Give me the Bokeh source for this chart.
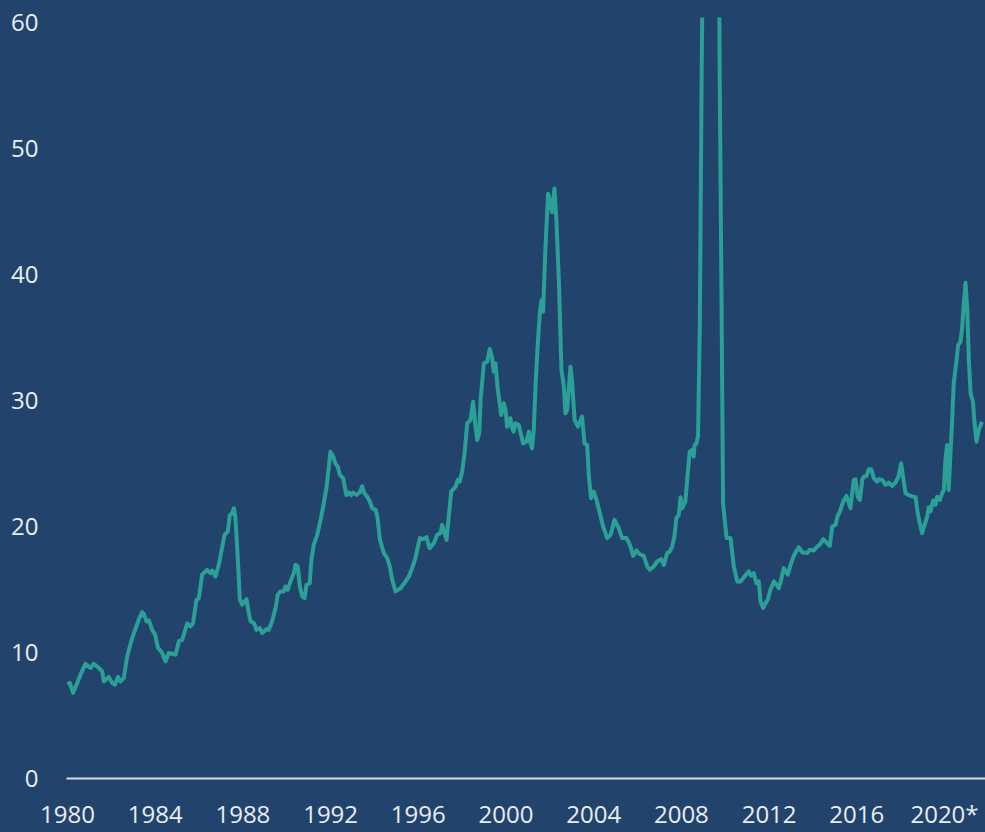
from bokeh.plotting import figure
from bokeh.models import FixedTicker
from bokeh.embed import file_html
from bokeh.resources import INLINE

# decimal year of each observation
year = [
    1980.00, 1980.10, 1980.26, 1980.41, 1980.59, 1980.82, 1981.05, 1981.20, 1981.43, 1981.58,
    1981.66, 1981.88, 1982.04, 1982.16, 1982.30, 1982.42, 1982.57, 1982.72, 1982.95, 1983.25,
    1983.40, 1983.48, 1983.60, 1983.71, 1983.86, 1984.00, 1984.12, 1984.32, 1984.47, 1984.62,
    1984.93, 1985.08, 1985.23, 1985.46, 1985.61, 1985.73, 1985.88, 1985.99, 1986.14, 1986.37,
    1986.52, 1986.60, 1986.75, 1986.90, 1987.06, 1987.16, 1987.31, 1987.40, 1987.51, 1987.59,
    1987.66, 1987.77, 1987.86, 1987.97, 1988.16, 1988.27, 1988.35, 1988.50, 1988.62, 1988.77,
    1988.88, 1989.08, 1989.18, 1989.33, 1989.49, 1989.59, 1989.71, 1989.87, 1989.94, 1990.05,
    1990.17, 1990.32, 1990.40, 1990.50, 1990.60, 1990.70, 1990.81, 1990.90, 1991.05, 1991.11,
    1991.23, 1991.39, 1991.54, 1991.66, 1991.81, 1991.92, 1991.99, 1992.12, 1992.22, 1992.33,
    1992.42, 1992.57, 1992.63, 1992.72, 1992.83, 1992.94, 1993.03, 1993.18, 1993.33, 1993.44,
    1993.54, 1993.67, 1993.79, 1993.90, 1994.05, 1994.13, 1994.25, 1994.43, 1994.58, 1994.70,
    1994.81, 1994.96, 1995.19, 1995.42, 1995.57, 1995.72, 1995.87, 1995.95, 1996.07, 1996.22,
    1996.37, 1996.52, 1996.71, 1996.86, 1997.01, 1997.09, 1997.20, 1997.29, 1997.39, 1997.50,
    1997.70, 1997.80, 1997.89, 1998.00, 1998.11, 1998.23, 1998.38, 1998.50, 1998.61, 1998.69,
    1998.78, 1998.84, 1998.99, 1999.14, 1999.26, 1999.37, 1999.44, 1999.52, 1999.62, 1999.78,
    1999.90, 1999.98, 2000.05, 2000.13, 2000.20, 2000.28, 2000.35, 2000.43, 2000.58, 2000.78,
    2000.93, 2001.04, 2001.12, 2001.19, 2001.27, 2001.35, 2001.45, 2001.54, 2001.62, 2001.69,
    2001.80, 2001.92, 2002.03, 2002.10, 2002.21, 2002.30, 2002.41, 2002.53, 2002.64, 2002.71,
    2002.79, 2002.94, 2003.01, 2003.13, 2003.28, 2003.47, 2003.58, 2003.70, 2003.78, 2003.88,
    2004.00, 2004.13, 2004.28, 2004.43, 2004.62, 2004.77, 2004.95, 2005.14, 2005.30, 2005.50,
    2005.65, 2005.80, 2005.95, 2006.10, 2006.28, 2006.44, 2006.56, 2006.74, 2006.89, 2007.08,
    2007.20, 2007.35, 2007.47, 2007.58, 2007.68, 2007.77, 2007.88, 2007.96, 2008.03, 2008.18,
    2008.29, 2008.38, 2008.49, 2008.56, 2008.60, 2008.69, 2008.76, 2008.84, 2008.92, 2009.00,
    2009.08, 2009.17, 2009.25, 2009.33, 2009.42, 2009.50, 2009.58, 2009.67, 2009.75, 2009.83,
    2009.90, 2010.06, 2010.24, 2010.39, 2010.55, 2010.70, 2010.88, 2011.07, 2011.18, 2011.30,
    2011.42, 2011.53, 2011.61, 2011.73, 2011.84, 2011.94, 2012.06, 2012.22, 2012.34, 2012.44,
    2012.55, 2012.67, 2012.85, 2012.98, 2013.13, 2013.35, 2013.51, 2013.74, 2013.86, 2014.04,
    2014.19, 2014.31, 2014.47, 2014.62, 2014.77, 2014.88, 2015.03, 2015.13, 2015.23, 2015.38,
    2015.53, 2015.71, 2015.79, 2015.86, 2015.94, 2016.04, 2016.14, 2016.25, 2016.32, 2016.44,
    2016.55, 2016.66, 2016.78, 2016.93, 2017.00, 2017.16, 2017.31, 2017.46, 2017.61, 2017.76,
    2017.91, 2018.02, 2018.11, 2018.22, 2018.37, 2018.57, 2018.68, 2018.78, 2018.87, 2018.98,
    2019.09, 2019.21, 2019.28, 2019.36, 2019.48, 2019.59, 2019.66, 2019.79, 2019.89, 2019.97,
    2020.04, 2020.12, 2020.19, 2020.27, 2020.35, 2020.42, 2020.55, 2020.62, 2020.73, 2020.81,
    2020.88, 2020.96, 2021.04, 2021.11, 2021.19, 2021.30, 2021.37, 2021.46, 2021.56, 2021.71,
]

# series values
pe_ratio = [
    7.45, 7.6, 6.8, 7.45, 8.24, 9.1, 8.77, 9.1, 8.77, 8.5,
    7.7, 8.06, 7.58, 7.45, 8.06, 7.7, 7.98, 9.7, 11.15, 12.6,
    13.2, 13.08, 12.47, 12.55, 11.8, 11.4, 10.4, 9.96, 9.3, 9.96,
    9.83, 10.9, 11.0, 12.3, 12.07, 12.34, 14.19, 14.3, 16.17, 16.56,
    16.3, 16.5, 16.04, 16.96, 18.4, 19.34, 19.6, 20.9, 21.06, 21.45,
    20.66, 17.36, 14.19, 13.8, 14.24, 13.13, 12.47, 12.34, 11.8, 11.94,
    11.55, 11.87, 11.8, 12.47, 13.53, 14.58, 14.85, 14.85, 15.24, 14.98,
    15.64, 16.3, 16.96, 16.83, 15.24, 14.45, 14.32, 15.38, 15.5, 17.1,
    18.55, 19.34, 20.5, 21.58, 23.04, 24.75, 25.94, 25.55, 25.0, 24.75,
    24.1, 23.83, 23.3, 22.5, 22.7, 22.5, 22.7, 22.5, 22.7, 23.2,
    22.64, 22.37, 21.98, 21.45, 21.32, 20.8, 18.94, 17.89, 17.5, 16.83,
    15.77, 14.85, 15.1, 15.64, 16.04, 16.7, 17.5, 18.15, 19.08, 19.0,
    19.15, 18.28, 18.68, 19.34, 19.47, 20.13, 19.47, 18.94, 20.79, 22.77,
    23.17, 23.7, 23.56, 24.36, 25.81, 28.19, 28.45, 29.9, 27.92, 26.87,
    27.4, 30.04, 32.95, 33.07, 34.1, 33.34, 32.28, 32.95, 30.97, 28.85,
    29.78, 29.25, 27.92, 28.19, 28.59, 27.8, 27.53, 28.19, 28.06, 26.6,
    26.73, 27.53, 26.6, 26.2, 27.8, 31.3, 34.53, 36.9, 37.96, 37.04,
    42.19, 46.42, 45.63, 44.96, 46.82, 44.3, 39.55, 32.42, 31.09, 28.98,
    29.25, 32.68, 31.62, 28.45, 27.92, 28.72, 26.6, 26.47, 23.96, 22.24,
    22.77, 22.11, 21.06, 20.0, 19.08, 19.34, 20.53, 19.87, 19.08, 19.08,
    18.55, 17.67, 18.1, 17.8, 17.67, 16.83, 16.57, 16.83, 17.22, 17.41,
    16.96, 17.89, 18.0, 18.4, 19.2, 20.66, 20.92, 22.33, 21.45, 21.98,
    24.23, 25.94, 26.08, 25.55, 26.47, 26.6, 27.2, 36.0, 55.0, 70.9,
    86.0, 110.0, 119.9, 123.7, 122.4, 101.0, 86.0, 80.0, 55.0, 38.0,
    21.85, 19.08, 19.08, 16.83, 15.64, 15.64, 16.04, 16.43, 16.09, 16.3,
    15.5, 15.64, 14.05, 13.53, 13.92, 14.19, 14.98, 15.64, 15.38, 15.11,
    15.77, 16.7, 16.17, 16.96, 17.7, 18.36, 17.94, 17.89, 18.15, 18.1,
    18.41, 18.55, 19.0, 18.73, 18.47, 20.0, 20.13, 20.85, 21.19, 21.98,
    22.43, 21.45, 22.64, 23.7, 23.75, 22.37, 22.11, 23.7, 23.96, 24.0,
    24.55, 24.55, 23.83, 23.56, 23.75, 23.7, 23.3, 23.49, 23.22, 23.49,
    24.0, 25.02, 23.96, 22.64, 22.5, 22.37, 22.33, 21.06, 20.27, 19.47,
    20.13, 20.79, 21.53, 21.19, 22.06, 21.72, 22.37, 22.11, 22.64, 22.9,
    25.28, 26.47, 22.9, 25.68, 28.45, 31.36, 33.2, 34.4, 34.66, 35.85,
    37.7, 39.34, 37.17, 33.2, 30.57, 29.9, 28.19, 26.73, 27.66, 28.32,
]

x_ticks = [1980, 1984, 1988, 1992, 1996, 2000, 2004, 2008, 2012, 2016, 2020]
x_tick_labels = ["1980", "1984", "1988", "1992", "1996", "2000", "2004", "2008", "2012", "2016", "2020*"]
y_ticks = [0, 10, 20, 30, 40, 50, 60]

BG = "#22446C"
LINE = "#2AA096"
TEXT = "#E8EDF3"
FONT = "Open Sans"

p = figure(
    width=985, height=832,
    x_range=(1979.954, 2021.87), y_range=(0, 60.4),
    output_backend="svg", toolbar_location=None,
    background_fill_color=BG, border_fill_color=BG,
    outline_line_color=None,
    min_border_left=66, min_border_right=0, min_border_top=17, min_border_bottom=53,
)

p.line(year, pe_ratio, line_color=LINE, line_width=4, line_join="round")

p.xgrid.grid_line_color = None
p.ygrid.grid_line_color = None

xa = p.xaxis[0]
xa.ticker = FixedTicker(ticks=x_ticks)
xa.major_label_overrides = {t: l for t, l in zip(x_ticks, x_tick_labels)}
xa.axis_line_color = "#D5DCE4"
xa.axis_line_width = 2
xa.major_tick_line_color = None
xa.minor_tick_line_color = None
xa.major_tick_out = 0
xa.major_tick_in = 0
xa.minor_tick_out = 0
xa.major_label_text_color = TEXT
xa.major_label_text_font = FONT
xa.major_label_text_font_size = "24px"
xa.major_label_standoff = 18

ya = p.yaxis[0]
ya.ticker = FixedTicker(ticks=y_ticks)
ya.axis_line_color = None
ya.major_tick_line_color = None
ya.minor_tick_line_color = None
ya.major_tick_out = 0
ya.major_tick_in = 0
ya.minor_tick_out = 0
ya.major_label_text_color = TEXT
ya.major_label_text_font = FONT
ya.major_label_text_font_size = "24px"
ya.major_label_standoff = 28

html = file_html(p, INLINE)
html = html.replace("</head>", "<style>html, body { background-color: %s; }</style></head>" % BG, 1)
open("out.html", "w").write(html)
